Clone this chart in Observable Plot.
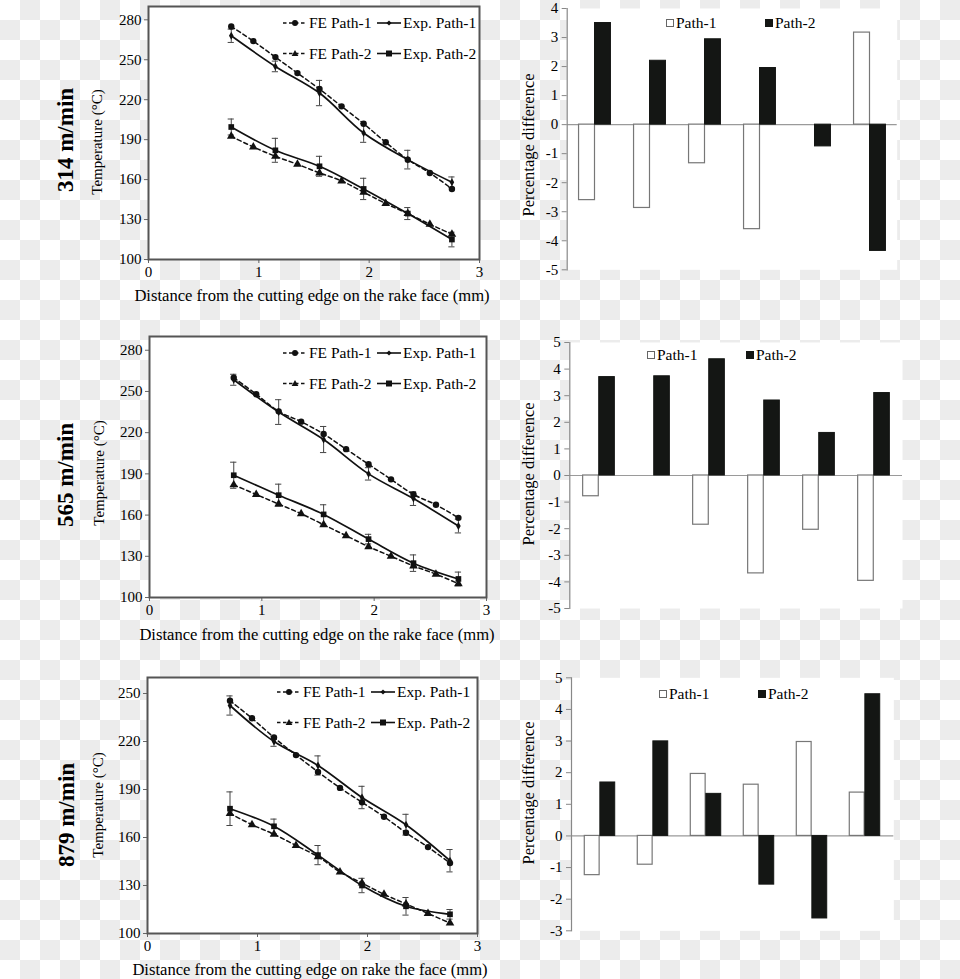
<!DOCTYPE html>
<html><head><meta charset="utf-8">
<script src="https://cdn.jsdelivr.net/npm/d3@7"></script>
<script src="https://cdn.jsdelivr.net/npm/@observablehq/plot@0.6"></script>
<style>
html,body{margin:0;padding:0;}
body{width:960px;height:979px;overflow:hidden;background:#fff;}
#fig{position:relative;width:960px;height:979px;background:repeating-conic-gradient(#ececec 0 25%, #ffffff 0 50%) 0 0/40px 40px;font-family:"Liberation Serif","Times New Roman",serif;color:#000;}
.abs{position:absolute;}
.rot{position:absolute;white-space:nowrap;transform:translate(-50%,-50%) rotate(-90deg);}
.row{font-weight:bold;font-size:23px;}
.ylab{font-size:15px;}
.plab{font-size:16.5px;}
.xlab{position:absolute;white-space:nowrap;font-size:16.6px;transform:translate(-50%,-50%);}
svg{overflow:visible;}
</style>
</head><body><div id="fig"></div>
<script>
// ---------- data ----------
const xFE  = [0.75, 0.95, 1.15, 1.35, 1.55, 1.75, 1.95, 2.15, 2.35, 2.55, 2.75];
const xExp = [0.75, 1.15, 1.55, 1.95, 2.35, 2.75];
const xTicks = [0, 1, 2, 3];
const tempTicksA = [100, 130, 160, 190, 220, 250, 280];
const tempTicksB = [100, 130, 160, 190, 220, 250];

// 314 m/min
const fe1_314  = [275, 264, 252, 240, 228, 215, 202, 188, 175, 165, 153];
const exp1_314 = [268, 245, 225, 195, 175, 158];
const err1_314 = [5, 4, 9.5, 7, 7, 4];
const fe2_314  = [192.5, 184.5, 177.5, 171.5, 165, 159, 150.5, 142, 134.5, 126.5, 119];
const exp2_314 = [199.5, 182, 170, 153, 134.5, 115];
const err2_314 = [6, 9, 7.5, 8, 4.5, 5.5];
// 565 m/min
const fe1_565  = [260, 248, 235.5, 228, 219, 208, 197, 186, 175, 167.5, 158];
const exp1_565 = [258.5, 235, 215, 190, 172, 152];
const err1_565 = [4, 9, 9.5, 4.5, 5, 5];
const fe2_565  = [182, 175, 168, 161, 153, 145, 137, 130, 123, 117, 110];
const exp2_565 = [189, 174.5, 160.5, 142.5, 125, 113.5];
const err2_565 = [9.5, 8, 7, 3.5, 6, 5];
// 879 m/min
const fe1_879  = [245.5, 234.5, 222.5, 211.5, 201, 191, 182, 173, 163, 154, 144];
const exp1_879 = [242.5, 220, 205, 185, 168, 145.5];
const err1_879 = [6, 3, 6, 7, 6.5, 7];
const fe2_879  = [175, 168, 162, 155, 148, 138.5, 131.5, 124.5, 118.5, 112.5, 106.5];
const exp2_879 = [178, 167, 149, 130, 117, 112];
const err2_879 = [10.5, 4.5, 6, 4.5, 5.5, 3];

// percentage difference (bars)
const barCats = ["0.75", "1.15", "1.55", "1.95", "2.35", "2.75"];
const pd1_314 = [-2.6, -2.87, -1.33, -3.6, 0, 3.17];
const pd2_314 = [3.5, 2.2, 2.94, 1.95, -0.75, -4.35];
const pd1_565 = [-0.78, 0, -1.85, -3.68, -2.04, -3.96];
const pd2_565 = [3.7, 3.73, 4.37, 2.82, 1.6, 3.1];
const pd1_879 = [-1.24, -0.91, 1.96, 1.62, 2.97, 1.37];
const pd2_879 = [1.69, 2.99, 1.33, -1.54, -2.61, 4.48];
const pdTicks314 = [-5, -4, -3, -2, -1, 0, 1, 2, 3, 4];
const pdTicks565 = [-5, -4, -3, -2, -1, 0, 1, 2, 3, 4, 5];
const pdTicks879 = [-3, -2, -1, 0, 1, 2, 3, 4, 5];

const speeds = ["314 m/min", "565 m/min", "879 m/min"];
const xTitles = ["Distance from the cutting edge on the rake face (mm)",
                 "Distance from the cutting edge on the rake face (mm)",
                 "Distance from the cutting edge on rake the face (mm)"];
const yTitleT = "Temperature (°C)";
const yTitleP = "Percentage difference";
const legendLine = ["FE Path-1", "Exp. Path-1", "FE Path-2", "Exp. Path-2"];
const legendBar = ["Path-1", "Path-2"];

// ---------- drawing ----------
const fig = document.getElementById("fig");
const FONT = "'Liberation Serif','Times New Roman',serif";
const INK = "#111";

function place(el, left, top) {
  const d = document.createElement("div");
  d.className = "abs"; d.style.left = left + "px"; d.style.top = top + "px";
  d.appendChild(el); fig.appendChild(d); return d;
}
function addText(cls, txt, cx, cy) {
  const d = document.createElement("div");
  d.className = cls; d.textContent = txt;
  d.style.left = cx + "px"; d.style.top = cy + "px";
  fig.appendChild(d);
}

function lineChart(o) {
  const fe1 = xFE.map((x, i) => ({x, y: o.fe1[i]}));
  const fe2 = xFE.map((x, i) => ({x, y: o.fe2[i]}));
  const ex1 = xExp.map((x, i) => ({x, y: o.exp1[i], e: o.err1[i]}));
  const ex2 = xExp.map((x, i) => ({x, y: o.exp2[i], e: o.err2[i]}));
  const cap = 0.028;
  const errMarks = (rows) => [
    Plot.ruleX(rows, {x: "x", y1: d => d.y - d.e, y2: d => d.y + d.e, stroke: "#444", strokeWidth: 1}),
    Plot.ruleY(rows, {y: d => d.y + d.e, x1: d => d.x - cap, x2: d => d.x + cap, stroke: "#444", strokeWidth: 1}),
    Plot.ruleY(rows, {y: d => d.y - d.e, x1: d => d.x - cap, x2: d => d.x + cap, stroke: "#444", strokeWidth: 1})
  ];
  return Plot.plot({
    width: o.width, height: o.height,
    marginLeft: o.ml, marginRight: o.mr, marginTop: o.mt, marginBottom: o.mb,
    style: {background: "transparent", fontFamily: FONT, fontSize: "15px", color: "#000", overflow: "visible"},
    x: {domain: [0, 3]},
    y: {domain: o.yDomain},
    marks: [
      Plot.frame({fill: "white", stroke: null}),
      Plot.axisY({ticks: o.yTicks, tickSize: 4, tickPadding: 3, stroke: "#666", fill: "#000", tickFormat: d => String(d), label: null}),
      Plot.axisX({ticks: xTicks, tickSize: 4, tickPadding: 3, stroke: "#666", fill: "#000", tickFormat: d => String(d), label: null}),
      ...errMarks(ex1), ...errMarks(ex2),
      Plot.line(fe1, {x: "x", y: "y", stroke: INK, strokeWidth: 1.5, strokeDasharray: "4,3", curve: "catmull-rom"}),
      Plot.line(fe2, {x: "x", y: "y", stroke: INK, strokeWidth: 1.5, strokeDasharray: "4,3", curve: "catmull-rom"}),
      Plot.line(ex1, {x: "x", y: "y", stroke: INK, strokeWidth: 1.7, curve: "catmull-rom"}),
      Plot.line(ex2, {x: "x", y: "y", stroke: INK, strokeWidth: 1.7, curve: "catmull-rom"}),
      Plot.dot(fe1, {x: "x", y: "y", r: 3.2, fill: INK, symbol: "circle"}),
      Plot.dot(fe2, {x: "x", y: "y", r: 3.2, fill: INK, symbol: "triangle"}),
      Plot.dot(ex1, {x: "x", y: "y", r: 2.4, fill: INK, symbol: "diamond"}),
      Plot.dot(ex2, {x: "x", y: "y", r: 3.2, fill: INK, symbol: "square"}),
      Plot.frame({stroke: "#555", strokeWidth: 2})
    ]
  });
}

function barChart(o) {
  const rows = barCats.map((c, i) => ({c, p1: o.p1[i], p2: o.p2[i]}));
  const band = (o.width - o.ml - o.mr) / barCats.length;
  const bw = band * 0.29;
  return Plot.plot({
    width: o.width, height: o.height,
    marginLeft: o.ml, marginRight: o.mr, marginTop: o.mt, marginBottom: o.mb,
    style: {background: "transparent", fontFamily: FONT, fontSize: "15px", color: "#000", overflow: "visible"},
    x: {domain: barCats, padding: 0, axis: null},
    y: {domain: o.yDomain},
    marks: [
      Plot.frame({fill: "white", stroke: null}),
      Plot.ruleY([0], {stroke: "#9a9a9a", strokeWidth: 1.2}),
      Plot.barY(rows, {x: "c", y: "p1", fill: "white", stroke: "#777", strokeWidth: 1.2, insetLeft: band / 2 - bw, insetRight: band / 2}),
      Plot.barY(rows, {x: "c", y: "p2", fill: "#141614", stroke: "#141614", insetLeft: band / 2, insetRight: band / 2 - bw}),
      Plot.frame({anchor: "left", stroke: "#888", strokeWidth: 1.2}),
      Plot.axisY({ticks: o.yTicks, tickSize: 5, tickPadding: 4, stroke: "#888", fill: "#000", tickFormat: d => String(d), label: null})
    ]
  });
}

function lineLegend(left, top) {
  const ns = "http://www.w3.org/2000/svg";
  const w = 210, rowGap = 30.5;
  let s = `<svg xmlns="${ns}" width="${w}" height="50" style="overflow:visible;font-family:${FONT};font-size:15.5px">`;
  const syms = [
    (x, y) => `<circle cx="${x}" cy="${y}" r="3" fill="${INK}"/>`,
    (x, y) => `<path d="M${x - 2.6},${y}L${x},${y - 2.6}L${x + 2.6},${y}L${x},${y + 2.6}Z" fill="${INK}"/>`,
    (x, y) => `<path d="M${x - 3.4},${y + 2.6}L${x},${y - 3.4}L${x + 3.4},${y + 2.6}Z" fill="${INK}"/>`,
    (x, y) => `<rect x="${x - 3}" y="${y - 3}" width="6" height="6" fill="${INK}"/>`
  ];
  for (let r = 0; r < 2; r++) {
    const y = 10 + r * rowGap;
    s += `<line x1="0" x2="24" y1="${y}" y2="${y}" stroke="${INK}" stroke-width="1.4" stroke-dasharray="3.5,2.5"/>`;
    s += syms[r * 2](12, y);
    s += `<text x="26" y="${y}" dy="0.33em">${legendLine[r * 2]}</text>`;
    s += `<line x1="94" x2="118" y1="${y}" y2="${y}" stroke="${INK}" stroke-width="1.6"/>`;
    s += syms[r * 2 + 1](106, y);
    s += `<text x="120" y="${y}" dy="0.33em">${legendLine[r * 2 + 1]}</text>`;
  }
  s += `</svg>`;
  const d = document.createElement("div");
  d.className = "abs"; d.style.left = left + "px"; d.style.top = (top - 10) + "px";
  d.innerHTML = s; fig.appendChild(d);
}

function barLegend(left, top) {
  let s = `<svg width="160" height="20" style="overflow:visible;font-family:${FONT};font-size:15.5px">`;
  s += `<rect x="0.5" y="${10 - 3.5}" width="7" height="7" fill="white" stroke="#666" stroke-width="1"/>`;
  s += `<text x="10" y="10" dy="0.33em">${legendBar[0]}</text>`;
  s += `<rect x="99" y="${10 - 4}" width="8" height="8" fill="#141614"/>`;
  s += `<text x="109" y="10" dy="0.33em">${legendBar[1]}</text>`;
  s += `</svg>`;
  const d = document.createElement("div");
  d.className = "abs"; d.style.left = left + "px"; d.style.top = (top - 10) + "px";
  d.innerHTML = s; fig.appendChild(d);
}

// ---- row 1: 314 m/min ----
place(lineChart({fe1: fe1_314, exp1: exp1_314, err1: err1_314, fe2: fe2_314, exp2: exp2_314, err2: err2_314,
  yDomain: [100, 290], yTicks: tempTicksA, width: 400, height: 300, ml: 58, mr: 11, mt: 6, mb: 41}), 90, 0);
lineLegend(283, 22.5);
place(barChart({p1: pd1_314, p2: pd2_314, yDomain: [-5, 4], yTicks: pdTicks314,
  width: 410, height: 290, ml: 66.7, mr: 13.3, mt: 8, mb: 20.7}), 500, 0);
barLegend(666, 23.3);
addText("rot row", speeds[0], 66, 140);
addText("rot ylab", yTitleT, 97, 142);
addText("xlab", xTitles[0], 312, 296);
addText("rot plab", yTitleP, 529, 144.5);

// ---- row 2: 565 m/min ----
place(lineChart({fe1: fe1_565, exp1: exp1_565, err1: err1_565, fe2: fe2_565, exp2: exp2_565, err2: err2_565,
  yDomain: [100, 290], yTicks: tempTicksA, width: 400, height: 300, ml: 59, mr: 4, mt: 10, mb: 29}), 90, 326);
lineLegend(282.7, 352.7);
place(barChart({p1: pd1_565, p2: pd2_565, yDomain: [-5, 5], yTicks: pdTicks565,
  width: 410, height: 290, ml: 69.3, mr: 8, mt: 12, mb: 12}), 500, 330);
barLegend(647, 355);
addText("rot row", speeds[1], 66, 475);
addText("rot ylab", yTitleT, 99, 473);
addText("xlab", xTitles[1], 317, 635);
addText("rot plab", yTitleP, 529, 473.7);

// ---- row 3: 879 m/min ----
place(lineChart({fe1: fe1_879, exp1: exp1_879, err1: err1_879, fe2: fe2_879, exp2: exp2_879, err2: err2_879,
  yDomain: [100, 260], yTicks: tempTicksB, width: 400, height: 300, ml: 57, mr: 13, mt: 10, mb: 34}), 90, 667);
lineLegend(276.7, 691.7);
place(barChart({p1: pd1_879, p2: pd2_879, yDomain: [-3, 5], yTicks: pdTicks879,
  width: 410, height: 290, ml: 71, mr: 16.7, mt: 12.3, mb: 24.7}), 500, 665);
barLegend(659, 694.3);
addText("rot row", speeds[2], 67, 815);
addText("rot ylab", yTitleT, 98, 805);
addText("xlab", xTitles[2], 310, 970);
addText("rot plab", yTitleP, 529, 793);
</script>
</body></html>
